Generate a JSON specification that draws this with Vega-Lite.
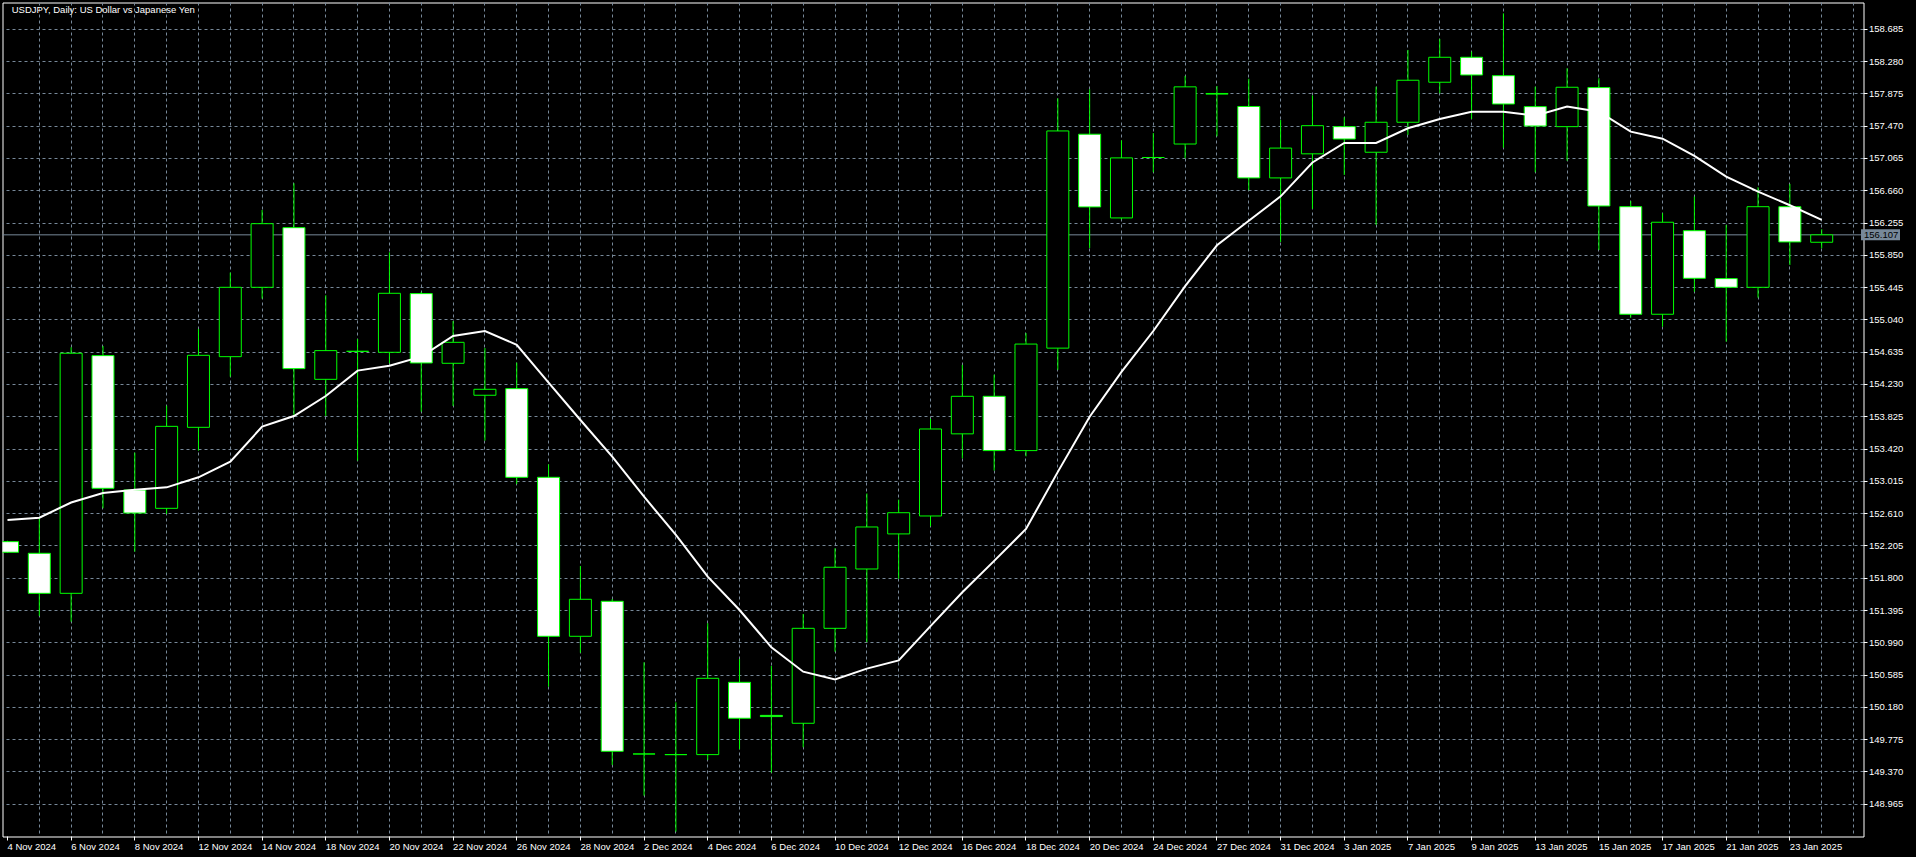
{
  "$schema": "https://vega.github.io/schema/vega-lite/v6.json",
  "width": 1861,
  "height": 834,
  "autosize": {"type": "none"},
  "padding": {"left": 2.5, "top": 2.5, "right": 52.5, "bottom": 20.5},
  "background": "#000000",
  "config": {
    "view": {"stroke": "#ffffff", "strokeWidth": 1, "fill": "#000000"},
    "axis": {
      "translate": 0, "domain": false, "title": null, "grid": true,
      "gridColor": "#778899", "gridDash": [3, 3], "gridWidth": 1,
      "tickColor": "#ffffff", "tickSize": 4, "tickWidth": 1,
      "labelColor": "#ffffff", "labelFont": "Liberation Sans", "labelFontSize": 9.5,
      "labelOverlap": false, "labelFlush": false
    }
  },
  "datasets": {
    "ohlc": [
      {"d": "4 Nov 2024", "o": 152.259, "h": 152.27, "l": 152.12, "c": 152.126, "ma": 152.53},
      {"d": "5 Nov 2024", "o": 152.113, "h": 152.55, "l": 151.327, "c": 151.611, "ma": 152.56},
      {"d": "6 Nov 2024", "o": 151.611, "h": 154.697, "l": 151.255, "c": 154.622, "ma": 152.75},
      {"d": "7 Nov 2024", "o": 154.592, "h": 154.713, "l": 152.678, "c": 152.928, "ma": 152.87},
      {"d": "8 Nov 2024", "o": 152.907, "h": 153.375, "l": 152.133, "c": 152.618, "ma": 152.91},
      {"d": "11 Nov 2024", "o": 152.677, "h": 153.964, "l": 152.606, "c": 153.705, "ma": 152.94},
      {"d": "12 Nov 2024", "o": 153.693, "h": 154.926, "l": 153.4, "c": 154.596, "ma": 153.066},
      {"d": "13 Nov 2024", "o": 154.579, "h": 155.633, "l": 154.328, "c": 155.449, "ma": 153.262},
      {"d": "14 Nov 2024", "o": 155.449, "h": 156.419, "l": 155.307, "c": 156.247, "ma": 153.701},
      {"d": "15 Nov 2024", "o": 156.197, "h": 156.754, "l": 153.827, "c": 154.429, "ma": 153.835},
      {"d": "18 Nov 2024", "o": 154.295, "h": 155.349, "l": 153.835, "c": 154.655, "ma": 154.086},
      {"d": "19 Nov 2024", "o": 154.646, "h": 154.801, "l": 153.275, "c": 154.646, "ma": 154.404},
      {"d": "20 Nov 2024", "o": 154.634, "h": 155.888, "l": 154.496, "c": 155.374, "ma": 154.466},
      {"d": "21 Nov 2024", "o": 155.37, "h": 155.39, "l": 153.889, "c": 154.5, "ma": 154.579},
      {"d": "22 Nov 2024", "o": 154.496, "h": 155.027, "l": 153.961, "c": 154.759, "ma": 154.839},
      {"d": "25 Nov 2024", "o": 154.095, "h": 154.688, "l": 153.526, "c": 154.17, "ma": 154.9},
      {"d": "26 Nov 2024", "o": 154.178, "h": 154.504, "l": 152.982, "c": 153.066, "ma": 154.728},
      {"d": "27 Nov 2024", "o": 153.066, "h": 153.229, "l": 150.44, "c": 151.072, "ma": 154.253},
      {"d": "28 Nov 2024", "o": 151.072, "h": 151.954, "l": 150.866, "c": 151.536, "ma": 153.785},
      {"d": "29 Nov 2024", "o": 151.511, "h": 151.54, "l": 149.458, "c": 149.63, "ma": 153.325},
      {"d": "2 Dec 2024", "o": 149.596, "h": 150.746, "l": 149.073, "c": 149.596, "ma": 152.823},
      {"d": "3 Dec 2024", "o": 149.588, "h": 150.244, "l": 148.621, "c": 149.588, "ma": 152.343},
      {"d": "4 Dec 2024", "o": 149.588, "h": 151.235, "l": 149.521, "c": 150.545, "ma": 151.82},
      {"d": "5 Dec 2024", "o": 150.495, "h": 150.787, "l": 149.655, "c": 150.044, "ma": 151.402},
      {"d": "6 Dec 2024", "o": 150.08, "h": 150.7, "l": 149.361, "c": 150.065, "ma": 150.934},
      {"d": "9 Dec 2024", "o": 149.981, "h": 151.352, "l": 149.68, "c": 151.172, "ma": 150.628},
      {"d": "10 Dec 2024", "o": 151.172, "h": 152.176, "l": 150.879, "c": 151.938, "ma": 150.53},
      {"d": "11 Dec 2024", "o": 151.916, "h": 152.863, "l": 150.999, "c": 152.443, "ma": 150.667},
      {"d": "12 Dec 2024", "o": 152.356, "h": 152.786, "l": 151.793, "c": 152.622, "ma": 150.769},
      {"d": "13 Dec 2024", "o": 152.581, "h": 153.8, "l": 152.453, "c": 153.672, "ma": 151.199},
      {"d": "16 Dec 2024", "o": 153.611, "h": 154.476, "l": 153.303, "c": 154.082, "ma": 151.624},
      {"d": "17 Dec 2024", "o": 154.082, "h": 154.353, "l": 153.15, "c": 153.401, "ma": 152.018},
      {"d": "18 Dec 2024", "o": 153.401, "h": 154.875, "l": 153.329, "c": 154.737, "ma": 152.418},
      {"d": "19 Dec 2024", "o": 154.686, "h": 157.819, "l": 154.414, "c": 157.41, "ma": 153.134},
      {"d": "20 Dec 2024", "o": 157.369, "h": 157.932, "l": 155.94, "c": 156.457, "ma": 153.826},
      {"d": "23 Dec 2024", "o": 156.319, "h": 157.292, "l": 156.3, "c": 157.072, "ma": 154.389},
      {"d": "24 Dec 2024", "o": 157.077, "h": 157.384, "l": 156.892, "c": 157.077, "ma": 154.901},
      {"d": "26 Dec 2024", "o": 157.246, "h": 158.1, "l": 157.067, "c": 157.963, "ma": 155.464},
      {"d": "27 Dec 2024", "o": 157.88, "h": 157.973, "l": 157.343, "c": 157.872, "ma": 155.976},
      {"d": "30 Dec 2024", "o": 157.717, "h": 158.065, "l": 156.667, "c": 156.821, "ma": 156.283},
      {"d": "31 Dec 2024", "o": 156.821, "h": 157.548, "l": 156.017, "c": 157.195, "ma": 156.59},
      {"d": "2 Jan 2025", "o": 157.123, "h": 157.855, "l": 156.432, "c": 157.476, "ma": 157.015},
      {"d": "3 Jan 2025", "o": 157.464, "h": 157.582, "l": 156.858, "c": 157.309, "ma": 157.26},
      {"d": "6 Jan 2025", "o": 157.143, "h": 157.965, "l": 156.231, "c": 157.519, "ma": 157.26},
      {"d": "7 Jan 2025", "o": 157.519, "h": 158.426, "l": 157.36, "c": 158.046, "ma": 157.444},
      {"d": "8 Jan 2025", "o": 158.021, "h": 158.564, "l": 157.883, "c": 158.334, "ma": 157.56},
      {"d": "9 Jan 2025", "o": 158.334, "h": 158.405, "l": 157.56, "c": 158.112, "ma": 157.652},
      {"d": "10 Jan 2025", "o": 158.103, "h": 158.885, "l": 157.2, "c": 157.748, "ma": 157.652},
      {"d": "13 Jan 2025", "o": 157.715, "h": 157.965, "l": 156.892, "c": 157.472, "ma": 157.602},
      {"d": "14 Jan 2025", "o": 157.464, "h": 158.196, "l": 157.037, "c": 157.958, "ma": 157.715},
      {"d": "15 Jan 2025", "o": 157.954, "h": 158.071, "l": 155.917, "c": 156.469, "ma": 157.652},
      {"d": "16 Jan 2025", "o": 156.46, "h": 156.532, "l": 155.068, "c": 155.111, "ma": 157.401},
      {"d": "17 Jan 2025", "o": 155.111, "h": 156.378, "l": 154.955, "c": 156.265, "ma": 157.313},
      {"d": "20 Jan 2025", "o": 156.159, "h": 156.586, "l": 155.394, "c": 155.562, "ma": 157.096},
      {"d": "21 Jan 2025", "o": 155.558, "h": 156.231, "l": 154.767, "c": 155.449, "ma": 156.837},
      {"d": "22 Jan 2025", "o": 155.449, "h": 156.704, "l": 155.319, "c": 156.46, "ma": 156.649},
      {"d": "23 Jan 2025", "o": 156.46, "h": 156.745, "l": 155.729, "c": 156.018, "ma": 156.478},
      {"d": "24 Jan 2025", "o": 156.014, "h": 156.177, "l": 155.938, "c": 156.107, "ma": 156.294}
    ]
  },
  "layer": [
    {
      "data": {"values": [{"p": 156.107}]},
      "mark": {"type": "rule", "color": "#778899", "strokeWidth": 1},
      "encoding": {
        "y": {
          "field": "p", "type": "quantitative",
          "scale": {"domain": [148.561, 159.021], "nice": false, "zero": false},
          "axis": {
            "orient": "right",
            "values": [148.965, 149.37, 149.775, 150.18, 150.585, 150.99, 151.395, 151.8, 152.205, 152.61, 153.015, 153.42, 153.825, 154.23, 154.635, 155.04, 155.445, 155.85, 156.255, 156.66, 157.065, 157.47, 157.875, 158.28, 158.685],
            "tickCount": 200,
            "format": ".3f",
            "labelAlign": "left",
            "labelBaseline": "middle",
            "labelPadding": 1.5,
            "labelOverlap": false,
            "labelFlush": false
          }
        }
      }
    },
    {
      "data": {"name": "ohlc"},
      "transform": [{"window": [{"op": "row_number", "as": "i"}]}],
      "mark": {"type": "rule", "color": "#00ff00", "strokeWidth": 1, "clip": true},
      "encoding": {
        "x": {
          "field": "i", "type": "quantitative",
          "scale": {"domain": [1, 59.15625], "nice": false, "zero": false},
          "axis": {
            "orient": "bottom",
            "values": [1,2,3,4,5,6,7,8,9,10,11,12,13,14,15,16,17,18,19,20,21,22,23,24,25,26,27,28,29,30,31,32,33,34,35,36,37,38,39,40,41,42,43,44,45,46,47,48,49,50,51,52,53,54,55,56,57,58,59],
            "tickCount": 200,
            "labelExpr": "(datum.value - 1) % 2 === 0 && datum.value <= 57 ? ['4 Nov 2024','5 Nov 2024','6 Nov 2024','7 Nov 2024','8 Nov 2024','11 Nov 2024','12 Nov 2024','13 Nov 2024','14 Nov 2024','15 Nov 2024','18 Nov 2024','19 Nov 2024','20 Nov 2024','21 Nov 2024','22 Nov 2024','25 Nov 2024','26 Nov 2024','27 Nov 2024','28 Nov 2024','29 Nov 2024','2 Dec 2024','3 Dec 2024','4 Dec 2024','5 Dec 2024','6 Dec 2024','9 Dec 2024','10 Dec 2024','11 Dec 2024','12 Dec 2024','13 Dec 2024','16 Dec 2024','17 Dec 2024','18 Dec 2024','19 Dec 2024','20 Dec 2024','23 Dec 2024','24 Dec 2024','26 Dec 2024','27 Dec 2024','30 Dec 2024','31 Dec 2024','2 Jan 2025','3 Jan 2025','6 Jan 2025','7 Jan 2025','8 Jan 2025','9 Jan 2025','10 Jan 2025','13 Jan 2025','14 Jan 2025','15 Jan 2025','16 Jan 2025','17 Jan 2025','20 Jan 2025','21 Jan 2025','22 Jan 2025','23 Jan 2025','24 Jan 2025'][datum.value - 1] : ''",
            "labelAlign": "left",
            "labelBaseline": "top",
            "labelPadding": 1.5,
            "labelOverlap": false,
            "labelFlush": false,
            "labelFontSize": 9.5,
            "tickOpacity": {"condition": {"test": "(datum.value - 1) % 2 === 0 && datum.value <= 57", "value": 1}, "value": 0},
            "gridOpacity": {"condition": {"test": "datum.value > 1", "value": 1}, "value": 0}
          }
        },
        "y": {"field": "l", "type": "quantitative"},
        "y2": {"field": "h"}
      }
    },
    {
      "data": {"name": "ohlc"},
      "transform": [{"window": [{"op": "row_number", "as": "i"}]}],
      "mark": {"type": "bar", "width": 22, "stroke": "#00ff00", "strokeWidth": 1, "clip": true},
      "encoding": {
        "x": {"field": "i", "type": "quantitative"},
        "y": {"field": "o", "type": "quantitative"},
        "y2": {"field": "c"},
        "fill": {"condition": {"test": "datum.c > datum.o", "value": "#000000"}, "value": "#ffffff"}
      }
    },
    {
      "data": {"name": "ohlc"},
      "transform": [{"window": [{"op": "row_number", "as": "i"}]}],
      "mark": {"type": "line", "color": "#ffffff", "strokeWidth": 2, "clip": true},
      "encoding": {
        "x": {"field": "i", "type": "quantitative"},
        "y": {"field": "ma", "type": "quantitative"}
      }
    },
    {
      "data": {"values": [{"t": "USDJPY, Daily:  US Dollar vs Japanese Yen"}]},
      "mark": {"type": "text", "align": "left", "baseline": "alphabetic", "dx": 4.2, "dy": 10, "color": "#ffffff", "font": "Liberation Sans", "fontSize": 9.5},
      "encoding": {
        "x": {"datum": 1, "type": "quantitative"},
        "y": {"datum": 159.021, "type": "quantitative"},
        "text": {"field": "t"}
      }
    },
    {
      "data": {"values": [{"p": 156.107}]},
      "mark": {"type": "rule", "color": "#778899", "strokeWidth": 11, "strokeCap": "butt", "xOffset": 2.5, "x2Offset": 41.5, "clip": false},
      "encoding": {
        "x": {"datum": 59.15625, "type": "quantitative"},
        "x2": {"datum": 59.15625},
        "y": {"field": "p", "type": "quantitative"}
      }
    },
    {
      "data": {"values": [{"p": 156.107}]},
      "mark": {"type": "text", "align": "left", "baseline": "middle", "dx": 5.5, "color": "#000000", "font": "Liberation Sans", "fontSize": 9.5},
      "encoding": {
        "x": {"datum": 59.15625, "type": "quantitative"},
        "y": {"field": "p", "type": "quantitative"},
        "text": {"field": "p", "type": "quantitative", "format": ".3f"}
      }
    }
  ]
}
